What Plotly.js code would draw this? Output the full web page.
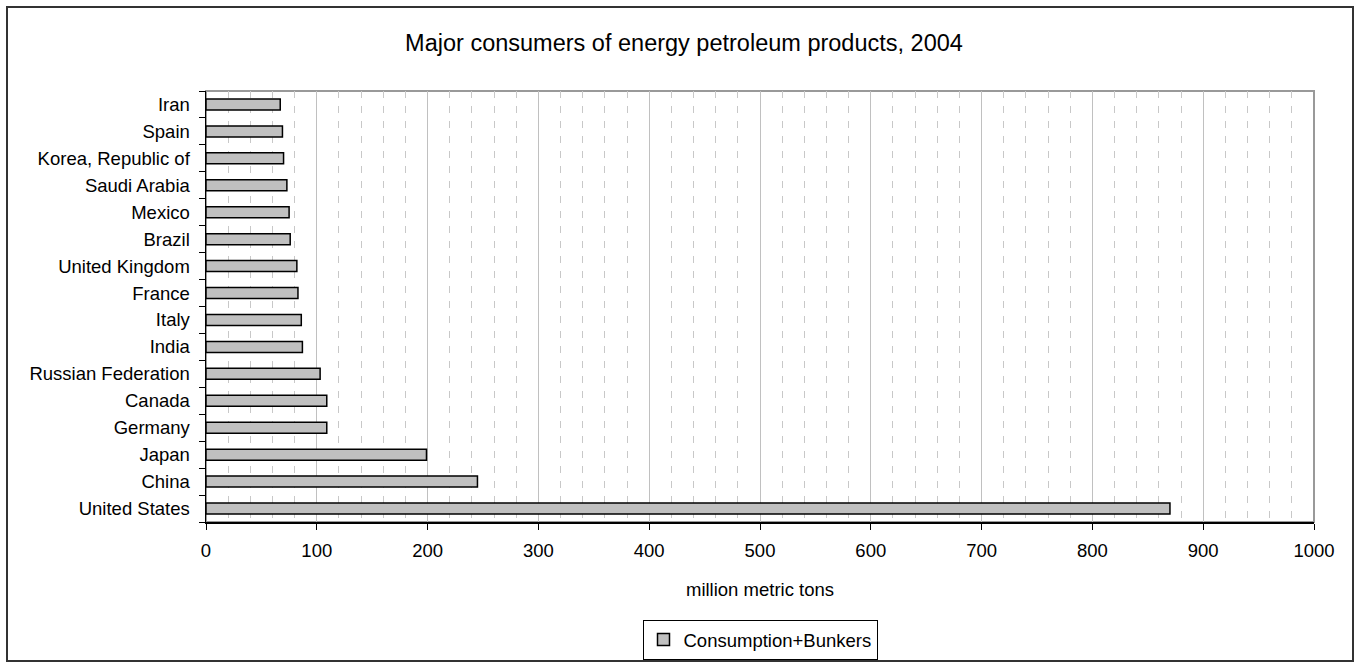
<!DOCTYPE html>
<html>
<head>
<meta charset="utf-8">
<script src="https://cdn.plot.ly/plotly-3.0.1.min.js"></script>
<style>html,body{margin:0;padding:0;background:#fff;}#chart{width:1356px;height:669px;}</style>
</head>
<body>
<div id="chart"></div>
<script>
const countries = ["United States","China","Japan","Germany","Canada","Russian Federation","India","Italy","France","United Kingdom","Brazil","Mexico","Saudi Arabia","Korea, Republic of","Spain","Iran"];
const consumption = [870, 245, 199, 109, 109, 103, 87, 86, 83, 82, 76, 75, 73, 70, 69, 67];
const seriesName = "Consumption+Bunkers";
const xTickVals = [0,100,200,300,400,500,600,700,800,900,1000];

const FONT = "Liberation Sans, Arial, sans-serif";
const L = 206, R = 1314, T = 91, B = 522, W = 1356, H = 669;
const pw = R - L, ph = B - T;
const px = v => (v - L) / pw;
const py = v => (B - v) / ph;

const trace = {
  type: "bar",
  orientation: "h",
  y: countries,
  x: consumption,
  name: seriesName,
  marker: {color: "#c0c0c0", line: {color: "#000000", width: 1.5}},
  showlegend: true,
  hoverinfo: "x+y"
};

const layout = {
  width: W, height: H,
  margin: {l: L, r: W - R, t: T, b: H - B, pad: 0, autoexpand: false},
  paper_bgcolor: "#ffffff",
  plot_bgcolor: "#ffffff",
  font: {family: FONT, size: 18.5, color: "#000"},
  title: {text: "Major consumers of energy petroleum products, 2004", font: {family: FONT, size: 23.5, color: "#000"}, xref: "container", x: 684/W, xanchor: "center", yref: "container", y: 1 - 43/H, yanchor: "middle"},
  bargap: 0.59,
  showlegend: true,
  legend: {x: 0.5, xanchor: "center", y: py(640), yanchor: "middle", orientation: "h", bordercolor: "#000", borderwidth: 1, bgcolor: "#fff", font: {family: FONT, size: 18.5}, itemwidth: 30, tracegroupgap: 0},
  xaxis: {
    range: [0, 1000], tickvals: xTickVals, ticktext: xTickVals.map(String),
    showgrid: true, gridcolor: "#c0c0c0", gridwidth: 1,
    minor: {dtick: 20, tick0: 0, showgrid: true, gridcolor: "#c8c8c8", gridwidth: 1, griddash: "7px,8px", ticks: ""},
    showline: true, linecolor: "#000", linewidth: 1.5,
    ticks: "outside", ticklen: 6, tickcolor: "#000", tickwidth: 1,
    tickfont: {family: FONT, size: 18.5}, ticklabelstandoff: 5,
    zeroline: false, fixedrange: true, automargin: false,
    title: {text: "million metric tons", font: {family: FONT, size: 18.5}, standoff: 23}
  },
  yaxis: {
    type: "category", categoryorder: "array", categoryarray: countries,
    showgrid: false, showline: true, linecolor: "#000", linewidth: 1.5,
    ticks: "outside", ticklen: 6, tickcolor: "#000", tickson: "boundaries",
    tickfont: {family: FONT, size: 18.5}, ticklabelstandoff: 11, automargin: false,
    fixedrange: true
  },
  shapes: [
    {type: "rect", xref: "paper", yref: "paper", x0: 0, x1: 1, y0: 0, y1: 1, line: {color: "#999999", width: 2}, layer: "below"},
    {type: "rect", xref: "paper", yref: "paper", x0: px(7), x1: px(1353), y0: py(661), y1: py(7), line: {color: "#333333", width: 2}, fillcolor: "rgba(0,0,0,0)", layer: "below"}
  ]
};

Plotly.newPlot("chart", [trace], layout, {displayModeBar: false, staticPlot: true});
</script>
</body>
</html>
